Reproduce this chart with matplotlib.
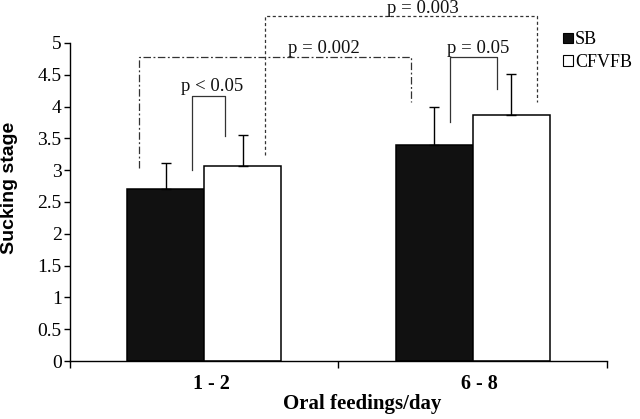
"""
Sucking stage by number of oral feedings per day (SB vs CFVFB).
"""

import matplotlib

matplotlib.use("Agg")
import matplotlib.pyplot as plt
import matplotlib.transforms as mtransforms
import numpy as np
from matplotlib.patches import Patch

plt.rcParams.update(
    {
        "font.family": "serif",
        "font.serif": ["Liberation Serif", "DejaVu Serif"],
        "axes.linewidth": 1.0,
    }
)

# Data
categories = ["1 - 2", "6 - 8"]
groups = ["SB", "CFVFB"]
sb_mean = [2.71, 3.40]
sb_sd = [0.41, 0.59]
cf_mean = [3.07, 3.86]
cf_sd = [0.49, 0.66]
y_ticks = [0, 0.5, 1, 1.5, 2, 2.5, 3, 3.5, 4, 4.5, 5]
p_labels = ["p < 0.05", "p = 0.05", "p = 0.002", "p = 0.003"]

LINE = "#333333"

fig = plt.figure(figsize=(6.4, 4.19), dpi=100)
ax = fig.add_axes([0.1094, 0.1384, 0.8386, 0.759])

x = np.arange(len(categories))
width = 0.287
off = width / 2

ax.bar(x - off, sb_mean, width, color="#111111", edgecolor="black", linewidth=1.1, zorder=2)
ax.bar(x + off, cf_mean, width, color="white", edgecolor="black", linewidth=1.1, zorder=2)

zeros = np.zeros(len(categories))
ax.errorbar(x - off, sb_mean, yerr=[zeros, sb_sd], fmt="none", ecolor="black",
            elinewidth=1.0, capsize=3.5, capthick=1.0, zorder=3)
ax.errorbar(x + off, cf_mean, yerr=[zeros, cf_sd], fmt="none", ecolor="black",
            elinewidth=1.0, capsize=3.5, capthick=1.0, zorder=3)


def bracket(x0, y0, x1, y1, top, label, tx, ty, ls):
    ax.plot([x0, x0, x1, x1], [y0, top, top, y1], color=LINE, linewidth=0.9,
            linestyle=ls, clip_on=False, zorder=4)
    ax.text(tx, ty, label, ha="center", va="baseline", fontsize=13.5, color="#111111",
            clip_on=False, zorder=5)


# within-group comparisons (solid)
bracket(-0.046, 3.00, 0.077, 3.54, 4.16, p_labels[0], 0.029, 4.24, "-")
bracket(0.915, 3.75, 1.090, 4.27, 4.785, p_labels[1], 1.02, 4.84, "-")
# between-group comparisons
bracket(-0.243, 3.03, 0.770, 4.07, 4.785, p_labels[2], 0.446, 4.84, (0, (6, 2, 1.5, 2)))
bracket(0.226, 3.24, 1.240, 4.07, 5.425, p_labels[3], 0.815, 5.47, (0, (2.5, 2)))

ax.set_xlim(-0.5, 1.5)
ax.set_ylim(0, 5)
ax.set_yticks(y_ticks)
ax.set_yticklabels([f"{t:g}" for t in y_ticks], fontsize=14)
ax.tick_params(axis="y", direction="out", length=4, width=1.0, pad=2)

ax.set_xticks([-0.5, 0.5, 1.5])
ax.set_xticklabels([])
ax.tick_params(axis="x", which="major", direction="out", length=5, width=1.0)
ax.set_xticks(x, minor=True)
ax.set_xticklabels(categories, minor=True, fontsize=14.5, fontweight="bold")
ax.tick_params(axis="x", which="minor", length=0, pad=9)
shift = mtransforms.ScaledTranslation(7 / 100, 0, fig.dpi_scale_trans)
for lab in ax.get_xticklabels(minor=True):
    lab.set_transform(lab.get_transform() + shift)

ax.spines["top"].set_visible(False)
ax.spines["right"].set_visible(False)

ax.set_xlabel("Oral feedings/day", fontsize=15, fontweight="bold")
ax.xaxis.set_label_coords(0.544, -0.105)
ax.set_ylabel("Sucking stage", fontsize=14, fontweight="bold", family="Liberation Sans")
ax.yaxis.set_label_coords(-0.096, 0.544)

handles = [
    Patch(facecolor="#111111", edgecolor="black", linewidth=0.8),
    Patch(facecolor="white", edgecolor="black", linewidth=0.8),
]
fig.legend(handles, groups, loc="upper left", bbox_to_anchor=(0.880, 0.925),
           frameon=False, fontsize=13, handlelength=0.55, handleheight=0.55,
           handletextpad=0.1, labelspacing=0.3, borderpad=0, borderaxespad=0)

fig.savefig("out.png", dpi=100)
plt.close(fig)
